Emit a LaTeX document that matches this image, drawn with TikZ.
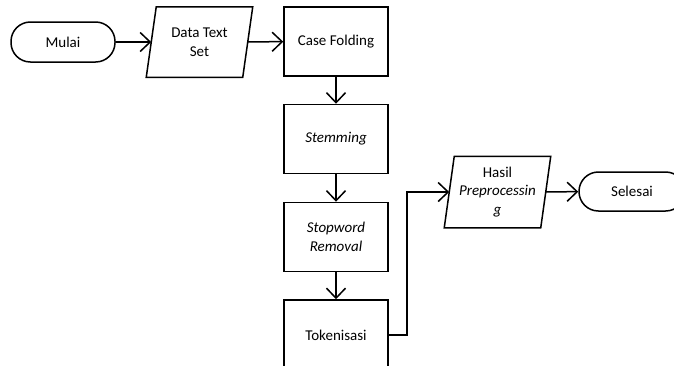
\documentclass[tikz,border=0pt]{standalone}
\usepackage{fontspec}
\setmainfont{Carlito}
\usetikzlibrary{arrows.meta}
\begin{document}
\begin{tikzpicture}[x=1pt,y=-1pt,
  base/.style={align=center, font=\fontsize{15}{18.5}\selectfont, inner sep=0pt, line width=1.5pt},
  term/.style={base, draw, rounded corners=19.4pt, minimum width=104pt, minimum height=40pt},
  procbox/.style={base, draw, minimum width=104pt, minimum height=69pt},
  iobox/.style={base, minimum width=95pt, minimum height=69pt},
  conn/.style={line width=1.5pt, -{Straight Barb[length=10pt,width=19pt,line width=1.5pt]}}
]
\useasboundingbox (0,0) rectangle (674,365);
\clip (0,0) rectangle (674,365);

\node[term] (mulai) at (63,42) {Mulai};
\node[iobox] (data) at (199.5,42) {Data Text\\Set};
\draw[line width=1.5pt] ([xshift=5pt]data.north west) -- ([xshift=5pt]data.north east)
   -- ([xshift=-5pt]data.south east) -- ([xshift=-5pt]data.south west) -- cycle;
\node[procbox] (case) at (336,41.5) {Case Folding};
\node[procbox] (stem) at (336,139) {\textit{Stemming}};
\node[procbox] (stop) at (336,237) {\textit{Stopword}\\\textit{Removal}};
\node[procbox, minimum height=70pt] (tok) at (336,335) {Tokenisasi};
\node[iobox, minimum height=70pt] (hasil) at (497.5,192) {Hasil\\\textit{Preprocessin}\\\textit{g}};
\draw[line width=1.5pt] ([xshift=5pt]hasil.north west) -- ([xshift=5pt]hasil.north east)
   -- ([xshift=-5pt]hasil.south east) -- ([xshift=-5pt]hasil.south west) -- cycle;
\node[term, minimum width=106pt, minimum height=39pt] (selesai) at (632,191.5) {Selesai};

\draw[conn] (mulai) -- (data);
\draw[conn] (data) -- (case);
\draw[conn] (case) -- (stem);
\draw[conn] (stem) -- (stop);
\draw[conn] (stop) -- (tok);
\draw[conn] (tok.east) -- ++(18,0) |- (hasil.west);
\draw[conn] (hasil) -- (selesai);
\end{tikzpicture}
\end{document}
